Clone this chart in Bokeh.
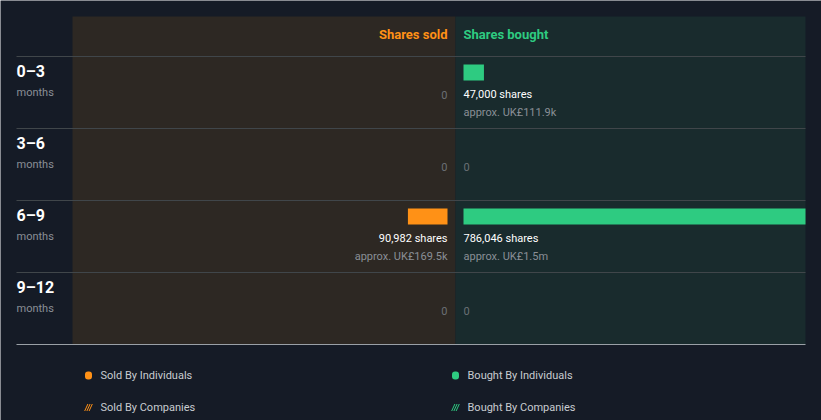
from bokeh.plotting import figure
from bokeh.models import Range1d
from bokeh.core.properties import value
from bokeh.embed import file_html
from bokeh.resources import INLINE

# ---- data ----
periods = ["0–3", "3–6", "6–9", "9–12"]
period_unit = "months"
sold_individuals = [0, 0, 90982, 0]
bought_individuals = [47000, 0, 786046, 0]
sold_value_labels = ["", "", "UK£169.5k", ""]
bought_value_labels = ["UK£111.9k", "", "UK£1.5m", ""]
header_sold = "Shares sold"
header_bought = "Shares bought"
legend_labels = ["Sold By Individuals", "Bought By Individuals", "Sold By Companies", "Bought By Companies"]

# ---- style ----
BG = "#151b26"
SOLD_BG = "#2d2823"
BOUGHT_BG = "#192b2d"
ORANGE = "#ff9116"
GREEN = "#2ecb81"
FONT = value("Roboto")

W, H = 821, 420
DIV_PX = 455          # pixel of the divider between sold and bought
SCALE = 342 / max(bought_individuals)   # px per share
GAP = 8 / SCALE       # gap from divider, in share units


def xs(px):
    return (px - DIV_PX) / SCALE


p = figure(width=W, height=H, output_backend="svg", toolbar_location=None,
           x_range=Range1d(xs(0), xs(W)), y_range=Range1d(H, 0),
           min_border=0, outline_line_color=None)
p.background_fill_color = BG
p.border_fill_color = BG
p.axis.visible = False
p.grid.visible = False

TOP, HEAD_BOT, ROW_H = 16, 56, 72
n = len(periods)
BOT = HEAD_BOT + ROW_H * n

# panels
p.quad(left=xs(72), right=0, top=TOP, bottom=BOT, fill_color=SOLD_BG, line_color=None)
p.quad(left=0, right=xs(805), top=TOP, bottom=BOT, fill_color=BOUGHT_BG, line_color=None)

# headers
p.text(x=[-GAP], y=[TOP + 18], text=[header_sold], text_align="right", text_baseline="middle",
       text_color=ORANGE, text_font=FONT, text_font_size="13px", text_font_style="bold")
p.text(x=[GAP], y=[TOP + 18], text=[header_bought], text_align="left", text_baseline="middle",
       text_color=GREEN, text_font=FONT, text_font_size="13px", text_font_style="bold")

# row separators
for i in range(n):
    y = HEAD_BOT + ROW_H * i
    p.segment(x0=xs(16), x1=xs(805), y0=y, y1=y, line_color="#40464a", line_width=1)
p.segment(x0=xs(16), x1=xs(805), y0=BOT, y1=BOT, line_color="#9aa0a6", line_width=1)

tops = [HEAD_BOT + ROW_H * i for i in range(n)]

# row labels
p.text(x=[xs(16)] * n, y=[t + 15 for t in tops], text=periods, text_align="left", text_baseline="middle",
       text_color="#ffffff", text_font=FONT, text_font_size="16px", text_font_style="bold")
p.text(x=[xs(16)] * n, y=[t + 36 for t in tops], text=[period_unit] * n, text_align="left",
       text_baseline="middle", text_color="#8a8f96", text_font=FONT, text_font_size="11px")

# bars
sold_rows = [i for i in range(n) if sold_individuals[i] > 0]
bought_rows = [i for i in range(n) if bought_individuals[i] > 0]
p.quad(left=[-GAP - sold_individuals[i] for i in sold_rows], right=[-GAP] * len(sold_rows),
       top=[tops[i] + 8 for i in sold_rows], bottom=[tops[i] + 24 for i in sold_rows],
       fill_color=ORANGE, line_color=None)
p.quad(left=[GAP] * len(bought_rows), right=[GAP + bought_individuals[i] for i in bought_rows],
       top=[tops[i] + 8 for i in bought_rows], bottom=[tops[i] + 24 for i in bought_rows],
       fill_color=GREEN, line_color=None)


def fmt(v):
    return f"{v:,} shares" if v > 0 else "0"


# amount texts
for side, vals, labels in (("sold", sold_individuals, sold_value_labels),
                           ("bought", bought_individuals, bought_value_labels)):
    x = -GAP if side == "sold" else GAP
    align = "right" if side == "sold" else "left"
    for i in range(n):
        v = vals[i]
        if v > 0:
            p.text(x=[x], y=[tops[i] + 38], text=[fmt(v)], text_align=align, text_baseline="middle",
                   text_color="#ffffff", text_font=FONT, text_font_size="11px")
            p.text(x=[x], y=[tops[i] + 56], text=["approx. " + labels[i]], text_align=align,
                   text_baseline="middle", text_color="#8a8f96", text_font=FONT, text_font_size="11px")
        else:
            p.text(x=[x], y=[tops[i] + 38], text=["0"], text_align=align, text_baseline="middle",
                   text_color="#6b7075", text_font=FONT, text_font_size="11px")

# legend
leg_x = [88, 455, 88, 455]
leg_y = [375, 375, 407, 407]
leg_col = [ORANGE, GREEN, ORANGE, GREEN]
for k in range(4):
    cx, cy = leg_x[k], leg_y[k]
    if k < 2:
        p.rect(x=[xs(cx)], y=[cy], width=7 / SCALE, height=8,
               fill_color=leg_col[k], line_color=None, border_radius=3)
    else:
        # striped marker: short diagonal strokes in a small cell
        offs = [-2.2, 0, 2.2]
        p.segment(x0=[xs(cx + o - 1.6) for o in offs], y0=[cy + 3.5] * 3,
                  x1=[xs(cx + o + 1.6) for o in offs], y1=[cy - 3.5] * 3,
                  line_color=leg_col[k], line_width=1)
    p.text(x=[xs(cx + 12)], y=[cy], text=[legend_labels[k]], text_align="left",
           text_baseline="middle", text_color="#c8ccd0", text_font=FONT, text_font_size="11px")

open("out.html", "w").write(file_html(p, INLINE))
